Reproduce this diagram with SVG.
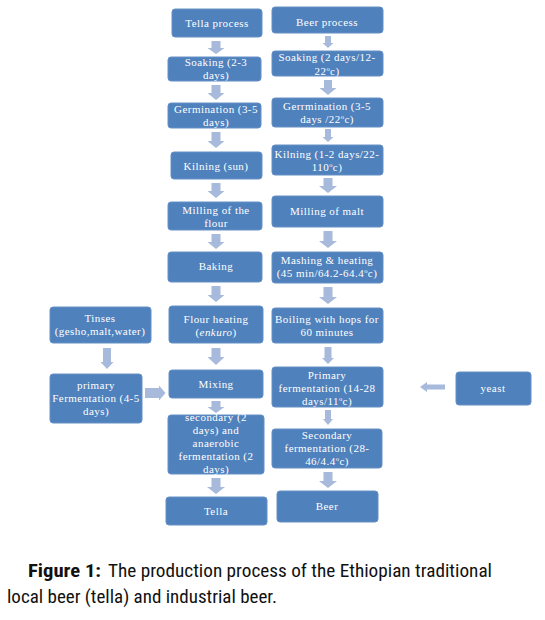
<svg xmlns="http://www.w3.org/2000/svg" width="545" height="620" viewBox="0 0 545 620">
<style>
.box{fill:#4f81bd;stroke:#6690c6;stroke-width:1}
.t{font-family:"Liberation Serif","Times New Roman",serif;font-size:11px;letter-spacing:0.45px;fill:#ffffff;text-anchor:middle}
.ar{fill:#a7badb}
.cap{font-family:"Liberation Sans Narrow","Roboto Condensed","DejaVu Sans Condensed","Liberation Sans",sans-serif;font-size:18px;fill:#111111}
.sup{font-size:6.5px}
</style>
<rect width="545" height="620" fill="#ffffff"/>
<g id="connectors">
<polygon class="ar" points="211.5,41 220.5,41 220.5,48 224.5,48 216,54 207.5,48 211.5,48"/>
<polygon class="ar" points="211.5,85 220.5,85 220.5,93 224.5,93 216,100 207.5,93 211.5,93"/>
<polygon class="ar" points="211.5,132 220.5,132 220.5,141 224.5,141 216,148 207.5,141 211.5,141"/>
<polygon class="ar" points="211.5,183 220.5,183 220.5,191 224.5,191 216,198 207.5,191 211.5,191"/>
<polygon class="ar" points="211.5,234 220.5,234 220.5,242 224.5,242 216,249 207.5,242 211.5,242"/>
<polygon class="ar" points="211.5,286 220.5,286 220.5,295 224.5,295 216,302 207.5,295 211.5,295"/>
<polygon class="ar" points="211.5,348 220.5,348 220.5,357 224.5,357 216,365 207.5,357 211.5,357"/>
<polygon class="ar" points="211.5,401 220.5,401 220.5,407 224.5,407 216,413 207.5,407 211.5,407"/>
<polygon class="ar" points="211.5,478 220.5,478 220.5,487 225,487 216,494 207,487 211.5,487"/>
<polygon class="ar" points="325,36 331,36 331,43 333.5,43 328,48 322.5,43 325,43"/>
<polygon class="ar" points="324,80 332,80 332,88 336.5,88 328,95 319.5,88 324,88"/>
<polygon class="ar" points="325,129 331,129 331,137 333.5,137 328,142 322.5,137 325,137"/>
<polygon class="ar" points="323.5,178 332.5,178 332.5,186 337,186 328,193 319,186 323.5,186"/>
<polygon class="ar" points="323.5,231 332.5,231 332.5,241 337,241 328,248 319,241 323.5,241"/>
<polygon class="ar" points="323.5,287 332.5,287 332.5,297 337,297 328,304 319,297 323.5,297"/>
<polygon class="ar" points="324.5,347 331.5,347 331.5,358 334,358 328,364 322,358 324.5,358"/>
<polygon class="ar" points="325,410 331,410 331,419 333,419 328,425 323,419 325,419"/>
<polygon class="ar" points="323.5,472 332.5,472 332.5,481 337,481 328,488 319,481 323.5,481"/>
<polygon class="ar" points="103,348 111,348 111,362 113.5,362 107,369 100.5,362 103,362"/>
<polygon class="ar" points="145,388 159,388 159,385.5 165.5,393 159,400.5 159,398 145,398"/>
<polygon class="ar" points="445,384.5 427,384.5 427,382 420,387 427,392 427,389.5 445,389.5"/>
</g>
<g id="tella-process"><rect class="box" x="172" y="9" width="90" height="28" rx="3"/><text class="t" x="217" y="27">Tella process</text></g>
<g id="tella-soaking"><rect class="box" x="168" y="57" width="93" height="24" rx="3"/><text class="t" x="216" y="66">Soaking (2-3</text><text class="t" x="216" y="79">days)</text></g>
<g id="tella-germination"><rect class="box" x="168" y="103" width="93" height="25" rx="3"/><text class="t" x="216" y="113">Germination (3-5</text><text class="t" x="216" y="126">days)</text></g>
<g id="tella-kilning"><rect class="box" x="171" y="152" width="91" height="27" rx="3"/><text class="t" x="216" y="170">Kilning (sun)</text></g>
<g id="tella-milling"><rect class="box" x="168" y="202" width="94" height="28" rx="3"/><text class="t" x="216" y="214">Milling of the</text><text class="t" x="216" y="227">flour</text></g>
<g id="tella-baking"><rect class="box" x="168" y="252" width="94" height="30" rx="3"/><text class="t" x="216" y="270">Baking</text></g>
<g id="tella-flour-heating"><rect class="box" x="169" y="306" width="94" height="37" rx="3"/><text class="t" x="216" y="323">Flour heating</text><text class="t" x="216" y="336">(<tspan font-style="italic">enkuro</tspan>)</text></g>
<g id="tella-mixing"><rect class="box" x="169" y="370" width="94" height="28" rx="3"/><text class="t" x="216" y="388">Mixing</text></g>
<g id="tella-secondary"><rect class="box" x="168" y="415" width="96" height="59" rx="3"/><text class="t" x="216" y="421">secondary (2</text><text class="t" x="216" y="434">days) and</text><text class="t" x="216" y="447">anaerobic</text><text class="t" x="216" y="460">fermentation (2</text><text class="t" x="216" y="473">days)</text></g>
<g id="tella"><rect class="box" x="166" y="497" width="101" height="28" rx="3"/><text class="t" x="216" y="515">Tella</text></g>
<g id="beer-process"><rect class="box" x="272" y="7" width="111" height="26" rx="3"/><text class="t" x="327" y="26">Beer process</text></g>
<g id="beer-soaking"><rect class="box" x="272" y="51" width="111" height="25" rx="3"/><text class="t" x="327" y="61">Soaking (2 days/12-</text><text class="t" x="327" y="75">22<tspan class="sup" dy="-4">o</tspan><tspan dy="4">c)</tspan></text></g>
<g id="beer-germination"><rect class="box" x="272" y="98" width="111" height="29" rx="3"/><text class="t" x="327" y="110">Gerrmination (3-5</text><text class="t" x="327" y="123">days /22<tspan class="sup" dy="-4">o</tspan><tspan dy="4">c)</tspan></text></g>
<g id="beer-kilning"><rect class="box" x="272" y="145" width="111" height="30" rx="3"/><text class="t" x="327" y="158">Kilning (1-2 days/22-</text><text class="t" x="327" y="171">110<tspan class="sup" dy="-4">o</tspan><tspan dy="4">c)</tspan></text></g>
<g id="beer-milling"><rect class="box" x="272" y="196" width="111" height="31" rx="3"/><text class="t" x="327" y="215">Milling of malt</text></g>
<g id="beer-mashing"><rect class="box" x="272" y="252" width="111" height="31" rx="3"/><text class="t" x="327" y="264">Mashing &amp; heating</text><text class="t" x="327" y="277">(45 min/64.2-64.4<tspan class="sup" dy="-4">o</tspan><tspan dy="4">c)</tspan></text></g>
<g id="beer-boiling"><rect class="box" x="272" y="308" width="111" height="35" rx="3"/><text class="t" x="327" y="323">Boiling with hops for</text><text class="t" x="327" y="336">60 minutes</text></g>
<g id="beer-primary"><rect class="box" x="272" y="367" width="111" height="40" rx="3"/><text class="t" x="327" y="379">Primary</text><text class="t" x="327" y="392">fermentation (14-28</text><text class="t" x="327" y="405">days/11<tspan class="sup" dy="-4">o</tspan><tspan dy="4">c)</tspan></text></g>
<g id="beer-secondary"><rect class="box" x="272" y="429" width="110" height="39" rx="3"/><text class="t" x="327" y="439">Secondary</text><text class="t" x="327" y="452">fermentation (28-</text><text class="t" x="327" y="465">46/4.4<tspan class="sup" dy="-4">o</tspan><tspan dy="4">c)</tspan></text></g>
<g id="beer"><rect class="box" x="277" y="491" width="101" height="31" rx="3"/><text class="t" x="327" y="510">Beer</text></g>
<g id="tinses"><rect class="box" x="50" y="307" width="101" height="36" rx="3"/><text class="t" x="100" y="322">Tinses</text><text class="t" x="100" y="335">(gesho,malt,water)</text></g>
<g id="primary-fermentation"><rect class="box" x="50" y="374" width="92" height="49" rx="3"/><text class="t" x="96" y="389">primary</text><text class="t" x="96" y="402">Fermentation (4-5</text><text class="t" x="96" y="415">days)</text></g>
<g id="yeast"><rect class="box" x="456" y="372" width="75" height="33" rx="3"/><text class="t" x="493" y="392">yeast</text></g>
<g id="caption">
<text class="cap" x="28" y="577" font-weight="bold" textLength="73" lengthAdjust="spacingAndGlyphs">Figure 1:</text>
<text class="cap" x="108" y="577" textLength="384" lengthAdjust="spacingAndGlyphs">The production process of the Ethiopian traditional</text>
<text class="cap" x="7" y="603" textLength="270" lengthAdjust="spacingAndGlyphs">local beer (tella) and industrial beer.</text>
</g>
</svg>
